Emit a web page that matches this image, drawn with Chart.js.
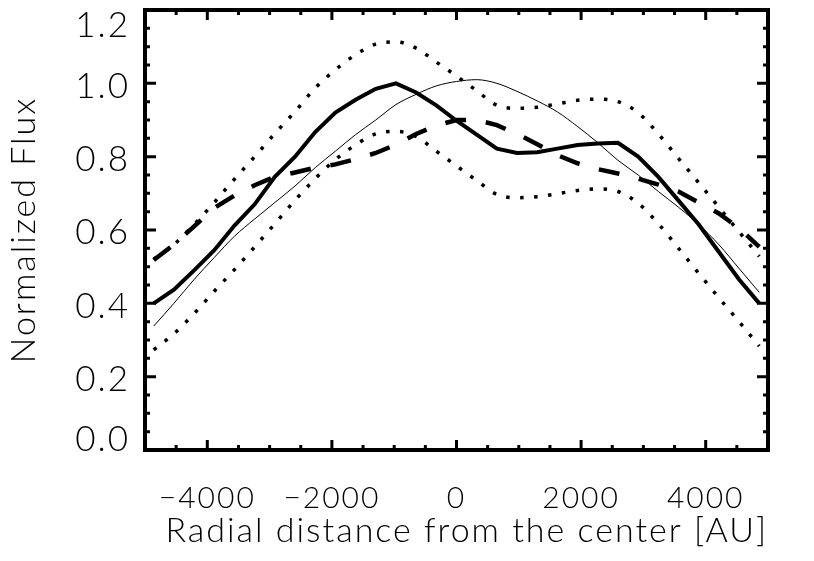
<!DOCTYPE html>
<html>
<head>
<meta charset="utf-8">
<script src="https://cdn.jsdelivr.net/npm/chart.js@4.4.1/dist/chart.umd.min.js"></script>
<style>
  body { margin: 0; background: #fff; }
  canvas { display: block; }
</style>
</head>
<body>
<canvas id="flux-chart" width="814" height="561"></canvas>
<script>

// radial positions of the samples [AU]
const radialPos = [-4860, -4536, -4212, -3888, -3564, -3240, -2916, -2592, -2268, -1944, -1620,
    -1296, -972, -648, -324, 0, 324, 648, 972, 1296, 1620, 1944, 2268, 2592, 2916, 3240, 3564,
    3888, 4212, 4536, 4860];

// observed profile (thick solid)
const observedFlux = [0.40, 0.437, 0.49, 0.545, 0.612, 0.67, 0.745, 0.80, 0.867, 0.92, 0.955,
    0.985, 1.00, 0.975, 0.94, 0.898, 0.86, 0.822, 0.81, 0.812, 0.822, 0.832, 0.836, 0.838, 0.80,
    0.745, 0.68, 0.615, 0.54, 0.465, 0.40];

// model profile (thin solid)
const modelFlux = [0.338, 0.40, 0.465, 0.525, 0.583, 0.63, 0.675, 0.72, 0.77, 0.815, 0.86,
    0.90, 0.942, 0.97, 0.993, 1.005, 1.01, 1.0, 0.978, 0.952, 0.922, 0.882, 0.838, 0.79, 0.75,
    0.705, 0.662, 0.615, 0.56, 0.495, 0.43];

// second profile (thick dashed)
const dashedFlux = [0.518, 0.56, 0.61, 0.66, 0.694, 0.722, 0.745, 0.757, 0.77, 0.779, 0.793,
    0.81, 0.833, 0.862, 0.885, 0.90, 0.90, 0.886, 0.862, 0.834, 0.804, 0.782, 0.766, 0.754, 0.74,
    0.724, 0.705, 0.675, 0.645, 0.605, 0.554];

// upper and lower envelopes (dotted)
const upperFlux = [0.52, 0.56, 0.615, 0.675, 0.739, 0.80, 0.863, 0.923, 0.987, 1.037, 1.078,
    1.107, 1.113, 1.096, 1.058, 1.02, 0.98, 0.94, 0.932, 0.935, 0.944, 0.954, 0.957, 0.95, 0.92,
    0.862, 0.795, 0.729, 0.662, 0.595, 0.528];

const lowerFlux = [0.273, 0.317, 0.372, 0.433, 0.492, 0.554, 0.617, 0.681, 0.74, 0.792, 0.832,
    0.862, 0.869, 0.855, 0.815, 0.775, 0.735, 0.697, 0.688, 0.691, 0.699, 0.708, 0.712, 0.705, 0.673,
    0.617, 0.55, 0.482, 0.415, 0.35, 0.283];

// axis ticks
const xTicks = [-4000, -2000, 0, 2000, 4000];
const xTickLabels = ['\u22124000', '\u22122000', '0', '2000', '4000'];
const xMinorTicks = [-4500, -3500, -3000, -2500, -1500, -1000, -500, 500, 1000, 1500, 2500, 3000, 3500, 4500];
const yTicks = [0, 0.2, 0.4, 0.6, 0.8, 1.0, 1.2];
const yTickLabels = ['0.0', '0.2', '0.4', '0.6', '0.8', '1.0', '1.2'];
const yMinorTicks = [0.05, 0.1, 0.15, 0.25, 0.3, 0.35, 0.45, 0.5, 0.55, 0.65, 0.7, 0.75, 0.85, 0.9, 0.95, 1.05, 1.1, 1.15];


const FONT = 'Lato, "DejaVu Sans", sans-serif';

function toPoints(values) {
    return values.map((v, i) => ({ x: radialPos[i], y: v }))
}

// end labels sit a little inside the frame, like the original
function yLabel(v) {
    const i = yTicks.indexOf(v);
    if (i === 0) return [yTickLabels[i], ''];
    if (i === yTicks.length - 1) return ['', yTickLabels[i]];
    return yTickLabels[i];
}


// the original vector font is wide, so space the letters out a bit
const wideText = {
    id: 'wideText',
    beforeDraw(chart) {
        chart.ctx.letterSpacing = '2px';
    },
    afterDraw(chart) {
        chart.ctx.letterSpacing = '0px';
    }
}

// frame with inward ticks on all four sides (IDL style)
const idlFrame = {
    id: 'idlFrame',
    afterDraw(chart) {
        const { ctx, chartArea: a, scales } = chart;
        const xs = scales.x;
        const ys = scales.y;

        ctx.save();
        ctx.strokeStyle = '#000';
        ctx.lineCap = 'butt';

        ctx.lineWidth = 3;
        const drawX = (vals, len) => {
            vals.forEach((v) => {
                const px = xs.getPixelForValue(v);
                ctx.beginPath();
                ctx.moveTo(px, a.bottom);
                ctx.lineTo(px, a.bottom - len);
                ctx.moveTo(px, a.top);
                ctx.lineTo(px, a.top + len);
                ctx.stroke();
            })
        }
        const drawY = (vals, len) => {
            vals.forEach((v) => {
                const py = ys.getPixelForValue(v);
                ctx.beginPath();
                ctx.moveTo(a.left, py);
                ctx.lineTo(a.left + len, py);
                ctx.moveTo(a.right, py);
                ctx.lineTo(a.right - len, py);
                ctx.stroke();
            })
        }
        drawX(xTicks, 10);
        drawX(xMinorTicks, 5);
        drawY(yTicks, 11);
        drawY(yMinorTicks, 5);

        ctx.lineWidth = 4;
        ctx.strokeRect(a.left, a.top, a.right - a.left, a.bottom - a.top);
        ctx.restore();
    }
}


const ctx = document.getElementById('flux-chart').getContext('2d');

new Chart(ctx, {
    type: 'line',
    data: {
        datasets: [
            {
                data: toPoints(upperFlux),
                borderColor: '#000',
                borderWidth: 3.5,
                borderDash: [3.5, 10.5],
                cubicInterpolationMode: 'monotone',
                pointRadius: 0
            },
            {
                data: toPoints(lowerFlux),
                borderColor: '#000',
                borderWidth: 3.5,
                borderDash: [3.5, 10.5],
                cubicInterpolationMode: 'monotone',
                pointRadius: 0
            },
            {
                data: toPoints(dashedFlux),
                borderColor: '#000',
                borderWidth: 4.5,
                borderDash: [21, 20],
                tension: 0,
                pointRadius: 0
            },
            {
                data: toPoints(modelFlux),
                borderColor: '#000',
                borderWidth: 1,
                cubicInterpolationMode: 'monotone',
                pointRadius: 0
            },
            {
                data: toPoints(observedFlux),
                borderColor: '#000',
                borderWidth: 4,
                tension: 0,
                pointRadius: 0
            }
        ]
    },
    options: {
        responsive: false,
        animation: false,
        layout: {
            padding: { top: 10, right: 46, left: 0, bottom: 0 }
        },
        plugins: {
            legend: { display: false },
            tooltip: { enabled: false }
        },
        scales: {
            x: {
                type: 'linear',
                min: -5000,
                max: 5000,
                afterBuildTicks: (scale) => {
                    scale.ticks = xTicks.map((v) => ({ value: v }))
                },
                afterFit: (scale) => {
                    scale.height = 111;
                    scale.paddingLeft = 0;
                    scale.paddingRight = 0;
                },
                grid: { display: false, drawTicks: false },
                border: { display: false },
                ticks: {
                    autoSkip: false,
                    maxRotation: 0,
                    padding: 30,
                    color: '#000',
                    font: { family: FONT, size: 30, weight: '300' },
                    callback: (v) => xTickLabels[xTicks.indexOf(v)]
                },
                title: {
                    display: true,
                    align: 'end',
                    text: 'Radial distance from the center [AU]',
                    color: '#000',
                    font: { family: FONT, size: 34, weight: '300' },
                    padding: { top: 0, bottom: 10 }
                }
            },
            y: {
                min: 0,
                max: 1.2,
                afterBuildTicks: (scale) => {
                    scale.ticks = yTicks.map((v) => ({ value: v }))
                },
                afterFit: (scale) => {
                    scale.width = 145;
                    scale.paddingTop = 0;
                    scale.paddingBottom = 0;
                },
                grid: { display: false, drawTicks: false },
                border: { display: false },
                ticks: {
                    padding: 15,
                    labelOffset: 3,
                    color: '#000',
                    font: { family: FONT, size: 35, weight: '300', lineHeight: '26px' },
                    callback: yLabel
                },
                title: {
                    display: true,
                    text: 'Normalized Flux',
                    color: '#000',
                    font: { family: FONT, size: 34, weight: '300' },
                    padding: { top: 4, bottom: 0 }
                }
            }
        }
    },
    plugins: [wideText, idlFrame]
});

</script>
</body>
</html>
